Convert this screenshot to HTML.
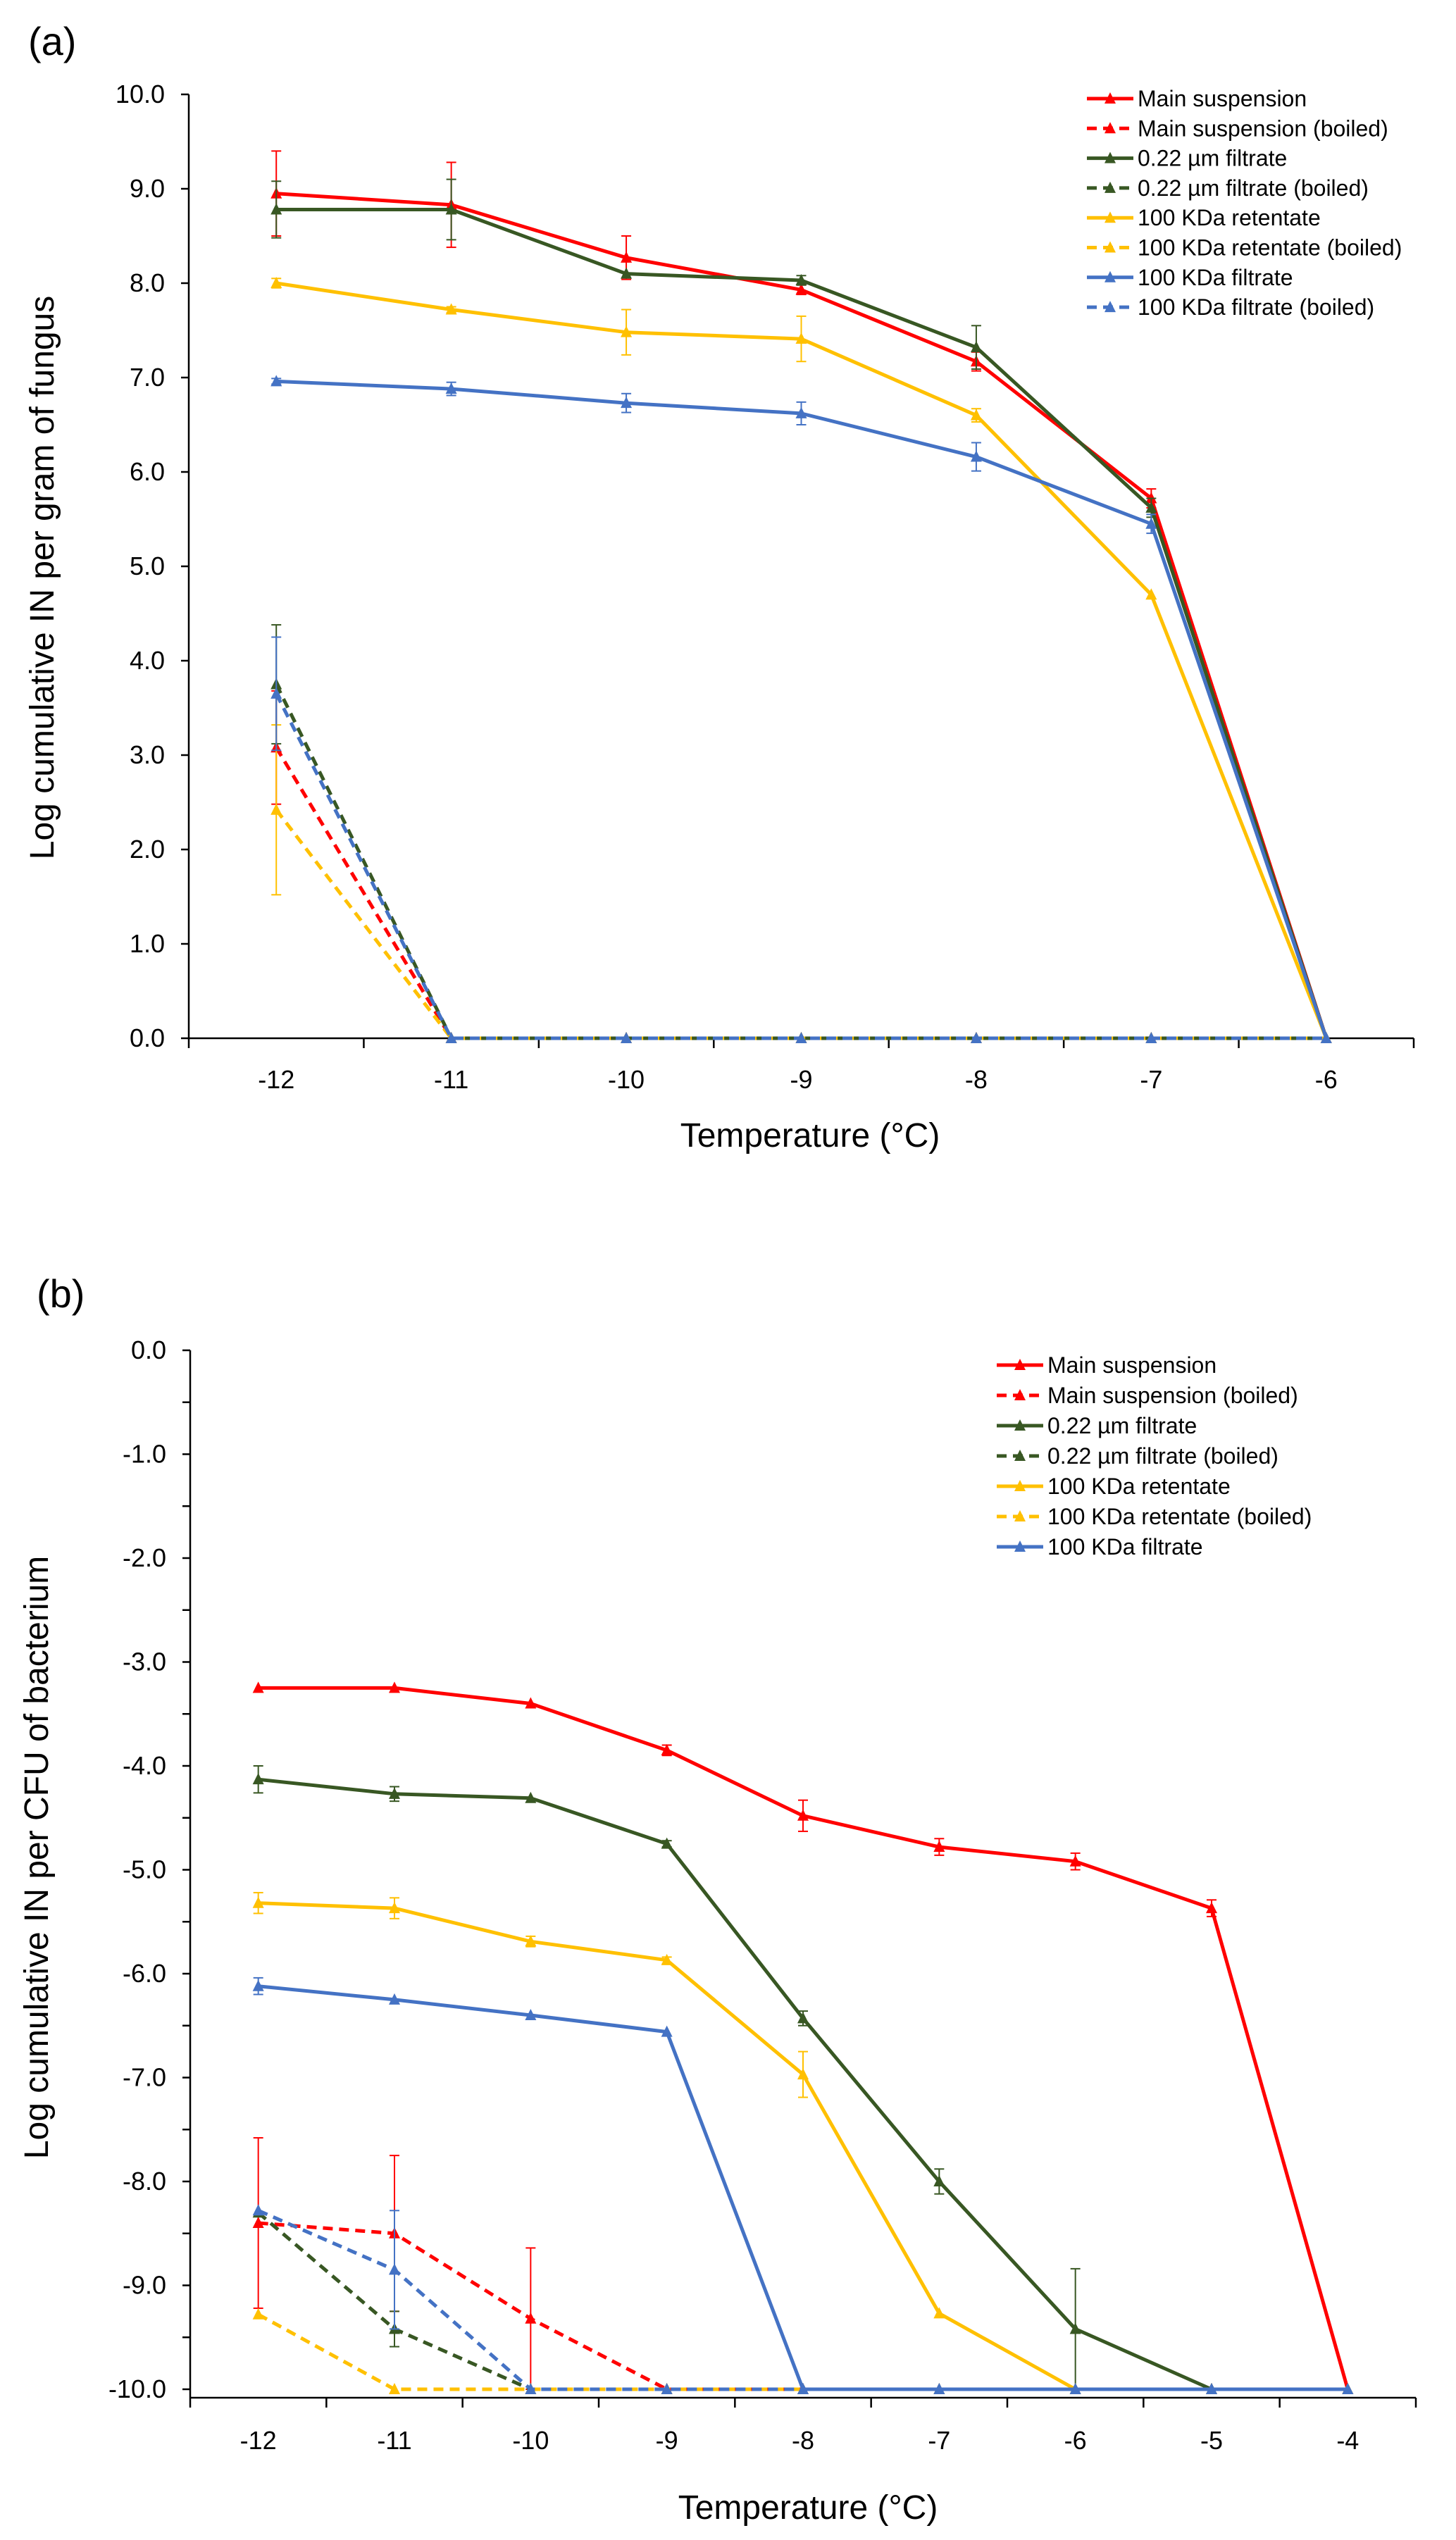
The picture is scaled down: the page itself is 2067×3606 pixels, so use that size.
<!DOCTYPE html>
<html><head><meta charset="utf-8"><style>
html,body{margin:0;padding:0;background:#fff;}
svg{display:block;font-family:"Liberation Sans",sans-serif;}
</style></head><body>
<svg id="svg" width="2067" height="3606" viewBox="0 0 2067 3606" xmlns="http://www.w3.org/2000/svg"></svg>
<script>
// ---- Chart (a) data ----
const aTemps = [-12,-11,-10,-9,-8,-7,-6];
const aYTicks = [0,1,2,3,4,5,6,7,8,9,10];
const aMain = [8.95,8.83,8.27,7.93,7.17,5.72,0];
const aMainErr = [0.45,0.45,0.23,0.05,0.1,0.1,0];
const aMainB = [3.08,0,0,0,0,0,0];
const aMainBErr = [0.6,0,0,0,0,0,0];
const aF22 = [8.78,8.78,8.10,8.03,7.32,5.62,0];
const aF22Err = [0.3,0.32,0,0.05,0.23,0.1,0];
const aF22B = [3.75,0,0,0,0,0,0];
const aF22BErr = [0.63,0,0,0,0,0,0];
const aRet = [8.0,7.72,7.48,7.41,6.6,4.7,0];
const aRetErr = [0.05,0.03,0.24,0.24,0.07,0,0];
const aRetB = [2.42,0,0,0,0,0,0];
const aRetBErr = [0.9,0,0,0,0,0,0];
const aFil = [6.96,6.88,6.73,6.62,6.16,5.45,0];
const aFilErr = [0.03,0.07,0.1,0.12,0.15,0.1,0];
const aFilB = [3.65,0,0,0,0,0,0];
const aFilBErr = [0.6,0,0,0,0,0,0];
// ---- Chart (b) data ----
const bTemps = [-12,-11,-10,-9,-8,-7,-6,-5,-4];
const bYTicks = [0,-1,-2,-3,-4,-5,-6,-7,-8,-9,-10];
const bMain = [-3.25,-3.25,-3.4,-3.85,-4.48,-4.78,-4.92,-5.37,-10];
const bMainErr = [0,0,0,0.05,0.15,0.08,0.08,0.08,0];
const bMainB = [-8.4,-8.5,-9.32,-10,-10,-10,-10,-10,-10];
const bMainBErr = [0.82,0.75,0.68,0,0,0,0,0,0];
const bF22 = [-4.13,-4.27,-4.31,-4.75,-6.43,-8.0,-9.42,-10,-10];
const bF22Err = [0.13,0.07,0,0.03,0.07,0.12,0.58,0,0];
const bF22B = [-8.3,-9.42,-10,-10,-10,-10,-10,-10,-10];
const bF22BErr = [0,0.17,0,0,0,0,0,0,0];
const bRet = [-5.32,-5.37,-5.69,-5.87,-6.97,-9.27,-10,-10,-10];
const bRetErr = [0.1,0.1,0.05,0.03,0.22,0,0,0,0];
const bRetB = [-9.28,-10,-10,-10,-10,-10,-10,-10,-10];
const bRetBErr = [0,0,0,0,0,0,0,0,0];
const bFil = [-6.12,-6.25,-6.4,-6.56,-10,-10,-10,-10,-10];
const bFilErr = [0.08,0,0,0,0,0,0,0,0];
const bFilB = [-8.28,-8.85,-10,-10,-10,-10,-10,-10,-10];
const bFilBErr = [0,0.57,0,0,0,0,0,0,0];

const NS="http://www.w3.org/2000/svg";
const svg=document.getElementById('svg');
function mk(tag,attrs,parent){const e=document.createElementNS(NS,tag);for(const k in attrs)e.setAttribute(k,attrs[k]);(parent||svg).appendChild(e);return e;}
const RED="#ff0000",GRN="#385723",YEL="#ffc000",BLU="#4472c4";

function chart(cfg){
  const g=mk('g',{});
  
  
  const X=v=>cfg.x0+(v-cfg.xmin)*(cfg.x1-cfg.x0)/(cfg.xmax-cfg.xmin);
  const Y=v=>cfg.yb+(v-cfg.ymin)*(cfg.yt-cfg.yb)/(cfg.ymax-cfg.ymin);
  const topY=Math.min(cfg.yb,cfg.yt);
  const ya=mk('line',{x1:cfg.x0,y1:topY,x2:cfg.x0,y2:cfg.axisY,stroke:'#000','stroke-width':2.5},g);
  
  const xa=mk('line',{x1:cfg.x0,y1:cfg.axisY,x2:cfg.x1,y2:cfg.axisY,stroke:'#000','stroke-width':2.5},g);
  
  const lo=Math.min(cfg.ymin,cfg.ymax),hi=Math.max(cfg.ymin,cfg.ymax);
  const step=cfg.minor?0.5:1;
  for(let v=lo;v<=hi+0.001;v+=step){
    mk('line',{x1:cfg.x0-11,y1:Y(v),x2:cfg.x0,y2:Y(v),stroke:'#000','stroke-width':2.5},g);
  }
  cfg.yTicks.forEach(v=>{
    const t=mk('text',{x:cfg.x0-34,y:Y(v)+12,'text-anchor':'end','font-size':36,fill:'#000'},g);
    t.textContent=v.toFixed(1);
    
  });
  for(let v=cfg.xmin;v<=cfg.xmax+0.01;v+=1){
    mk('line',{x1:X(v),y1:cfg.axisY,x2:X(v),y2:cfg.axisY+14,stroke:'#000','stroke-width':2.5},g);
  }
  cfg.temps.forEach(v=>{
    const t=mk('text',{x:X(v),y:cfg.xLabY,'text-anchor':'middle','font-size':36,fill:'#000'},g);
    t.textContent=String(v);
    
  });
  const xt=mk('text',{x:cfg.xtX,y:cfg.xtY,'text-anchor':'middle','font-size':48,fill:'#000'},g);
  xt.textContent='Temperature (°C)';
  
  const yt=mk('text',{x:0,y:0,'text-anchor':'middle','font-size':48,fill:'#000',transform:`translate(${cfg.ytX},${cfg.ytY}) rotate(-90)`},g);
  yt.textContent=cfg.ytitle;
  
  const pl=mk('text',{x:cfg.plX,y:cfg.plY,'font-size':56,fill:'#000'},g);
  pl.textContent=cfg.panel;
  
  cfg.series.forEach(s=>{
    const sg=mk('g',{},g);
    
    
    s.vals.forEach((v,i)=>{const e=s.err[i];if(e>0){
      const x=X(cfg.temps[i]);
      mk('line',{x1:x,y1:Y(v-e),x2:x,y2:Y(v+e),stroke:s.color,'stroke-width':2},sg);
      mk('line',{x1:x-7,y1:Y(v-e),x2:x+7,y2:Y(v-e),stroke:s.color,'stroke-width':2},sg);
      mk('line',{x1:x-7,y1:Y(v+e),x2:x+7,y2:Y(v+e),stroke:s.color,'stroke-width':2},sg);
    }});
    const pts=s.vals.map((v,i)=>X(cfg.temps[i]).toFixed(1)+','+Y(v).toFixed(1)).join(' ');
    const a={points:pts,fill:'none',stroke:s.color,'stroke-width':5,'stroke-linejoin':'round'};
    if(s.dash)a['stroke-dasharray']='14,9';
    const ln=mk('polyline',a,sg);
    
    s.vals.forEach((v,i)=>{
      const x=X(cfg.temps[i]),y=Y(v);
      const m=mk('polygon',{points:`${x-8},${y+7} ${x+8},${y+7} ${x},${y-9}`,fill:s.color},sg);
      
    });
  });
  const lg=mk('g',{},g);
  
  cfg.series.filter(s=>s.legend).forEach((s,i)=>{
    const y=cfg.lgY+i*cfg.lgDy;
    const eg=mk('g',{},lg);
    
    const a={x1:cfg.lgX,y1:y,x2:cfg.lgX+66,y2:y,stroke:s.color,'stroke-width':5};
    if(s.dash)a['stroke-dasharray']='14,9';
    mk('line',a,eg);
    const x=cfg.lgX+33;
    mk('polygon',{points:`${x-8},${y+7} ${x+8},${y+7} ${x},${y-9}`,fill:s.color},eg);
    const t=mk('text',{x:cfg.lgX+72,y:y+11,'font-size':32,fill:'#000'},eg);
    t.textContent=s.label;
  });
}
const L=['Main suspension','Main suspension (boiled)','0.22 µm filtrate','0.22 µm filtrate (boiled)','100 KDa retentate','100 KDa retentate (boiled)','100 KDa filtrate','100 KDa filtrate (boiled)'];
chart({name:'chart-a-fungus',panel:'(a)',plX:40,plY:78,
  x0:268,x1:2007,xmin:-12.5,xmax:-5.5,ymin:0,ymax:10,yb:1474,yt:134,axisY:1474,minor:false,
  temps:aTemps,yTicks:aYTicks,xLabY:1545,xtX:1150,xtY:1628,ytX:76,ytY:820,
  ytitle:'Log cumulative IN per gram of fungus',lgX:1543,lgY:140,lgDy:42.3,
  series:[
   {key:'main',label:L[0],color:RED,vals:aMain,err:aMainErr,legend:1},
   {key:'main-boiled',label:L[1],color:RED,dash:1,vals:aMainB,err:aMainBErr,legend:1},
   {key:'f022',label:L[2],color:GRN,vals:aF22,err:aF22Err,legend:1},
   {key:'f022-boiled',label:L[3],color:GRN,dash:1,vals:aF22B,err:aF22BErr,legend:1},
   {key:'ret',label:L[4],color:YEL,vals:aRet,err:aRetErr,legend:1},
   {key:'ret-boiled',label:L[5],color:YEL,dash:1,vals:aRetB,err:aRetBErr,legend:1},
   {key:'fil',label:L[6],color:BLU,vals:aFil,err:aFilErr,legend:1},
   {key:'fil-boiled',label:L[7],color:BLU,dash:1,vals:aFilB,err:aFilBErr,legend:1}]});
chart({name:'chart-b-bacterium',panel:'(b)',plX:52,plY:1856,
  x0:270,x1:2010,xmin:-12.5,xmax:-3.5,ymin:0,ymax:-10,yb:1917,yt:3392,axisY:3404,minor:true,
  temps:bTemps,yTicks:bYTicks,xLabY:3477,xtX:1147,xtY:3576,ytX:68,ytY:2637,
  ytitle:'Log cumulative IN per CFU of bacterium',lgX:1415,lgY:1938,lgDy:43,
  series:[
   {key:'main',label:L[0],color:RED,vals:bMain,err:bMainErr,legend:1},
   {key:'main-boiled',label:L[1],color:RED,dash:1,vals:bMainB,err:bMainBErr,legend:1},
   {key:'f022',label:L[2],color:GRN,vals:bF22,err:bF22Err,legend:1},
   {key:'f022-boiled',label:L[3],color:GRN,dash:1,vals:bF22B,err:bF22BErr,legend:1},
   {key:'ret',label:L[4],color:YEL,vals:bRet,err:bRetErr,legend:1},
   {key:'ret-boiled',label:L[5],color:YEL,dash:1,vals:bRetB,err:bRetBErr,legend:1},
   {key:'fil',label:L[6],color:BLU,vals:bFil,err:bFilErr,legend:1},
   {key:'fil-boiled',label:L[7],color:BLU,dash:1,vals:bFilB,err:bFilBErr,legend:0}]});
</script>
</body></html>
